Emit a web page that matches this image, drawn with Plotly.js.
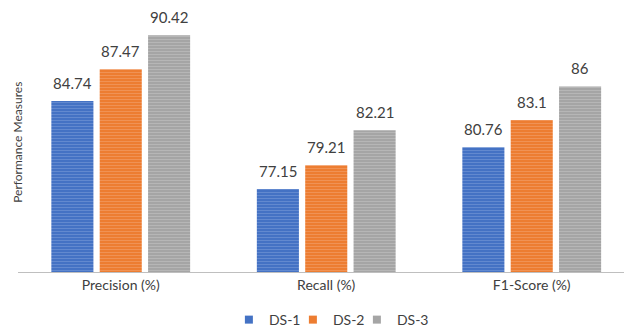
<!DOCTYPE html>
<html>
<head>
<meta charset="utf-8">
<script src="https://cdn.plot.ly/plotly-3.0.1.min.js"></script>
<style>
  html, body { margin: 0; padding: 0; background: #fff; }
  #chart { width: 624px; height: 329px; }
</style>
</head>
<body>
<div id="chart"></div>
<script>
// Performance measures per dataset
const categories = ['Precision (%)', 'Recall (%)', 'F1-Score (%)'];
const seriesNames = ['DS-1', 'DS-2', 'DS-3'];
const ds1 = [84.74, 77.15, 80.76];
const ds2 = [87.47, 79.21, 83.1];
const ds3 = [90.42, 82.21, 86];
const ds1Labels = ['84.74', '77.15', '80.76'];
const ds2Labels = ['87.47', '79.21', '83.1'];
const ds3Labels = ['90.42', '82.21', '86'];

const fills = ['#4472C4', '#ED7D31', '#A5A5A5'];
const stripes = ['#7f9fd9', '#f4a877', '#c8c8c8'];
const values = [ds1, ds2, ds3];
const labels = [ds1Labels, ds2Labels, ds3Labels];

const FONT = 'Lato, "Open Sans", sans-serif';

const W = 624, H = 329;
const M = { l: 18, r: 0, t: 11, b: 57 };
const X_RANGE = [-0.5, 2.449];
const BARGAP = 0.294, GROUPGAP = 0.13;

const bars = values.map((v, i) => ({
  type: 'bar',
  name: seriesNames[i],
  x: categories,
  y: v,
  marker: {
    color: fills[i],
    line: { width: 0 },
    pattern: { shape: '-', fgcolor: stripes[i], bgcolor: fills[i], size: 3, solidity: 0.35, fillmode: 'overlay' }
  },
  showlegend: false,
  hoverinfo: 'skip'
}));

// legend entries with small solid squares
const keys = seriesNames.map((n, i) => ({
  type: 'scatter',
  mode: 'markers',
  name: n,
  x: [null],
  y: [null],
  marker: { symbol: 'square', size: 8, color: fills[i] },
  showlegend: true,
  hoverinfo: 'skip'
}));
// blank trailing entry so the last legend name keeps room inside the legend box
keys.push({
  type: 'scatter',
  mode: 'markers',
  name: ' ',
  x: [null],
  y: [null],
  marker: { symbol: 'square', size: 8, color: 'rgba(0,0,0,0)' },
  showlegend: true,
  hoverinfo: 'skip'
});

// value labels above each bar, shifted sideways to their slot in the group
const pxPerCat = (W - M.l - M.r) / (X_RANGE[1] - X_RANGE[0]);
const slotPx = pxPerCat * (1 - BARGAP) / seriesNames.length;
const valueLabels = [];
values.forEach((v, i) => {
  v.forEach((val, j) => {
    valueLabels.push({
      xref: 'x', yref: 'y',
      x: categories[j], y: val,
      xshift: (i - (seriesNames.length - 1) / 2) * slotPx,
      yshift: 7,
      yanchor: 'bottom', xanchor: 'center',
      text: labels[i][j],
      showarrow: false,
      font: { family: FONT, size: 15, color: '#404040' }
    });
  });
});

const layout = {
  width: W,
  height: H,
  margin: Object.assign({ autoexpand: false }, M),
  paper_bgcolor: '#fff',
  plot_bgcolor: '#fff',
  barmode: 'group',
  bargap: BARGAP,
  bargroupgap: GROUPGAP,
  font: { family: FONT, color: '#404040' },
  xaxis: {
    type: 'category',
    range: X_RANGE,
    showline: true,
    linecolor: '#bfbfbf',
    linewidth: 1,
    ticks: '',
    showgrid: false,
    zeroline: false,
    tickfont: { family: FONT, size: 14, color: '#404040' }
  },
  yaxis: {
    range: [70, 92.5],
    showticklabels: false,
    showgrid: false,
    zeroline: false,
    showline: false,
    ticks: ''
  },
  showlegend: true,
  legend: {
    orientation: 'h',
    x: 0.348,
    xanchor: 'left',
    y: -0.184,
    yanchor: 'middle',
    font: { family: FONT, size: 14, color: '#404040' },
    itemwidth: 30,
    entrywidth: 19,
    entrywidthmode: 'pixels',
    traceorder: 'normal'
  },
  annotations: valueLabels.concat([{
    text: 'Performance Measures',
    xref: 'paper', yref: 'paper',
    x: 0, xanchor: 'center',
    y: 0.495, yanchor: 'middle',
    textangle: -90,
    showarrow: false,
    font: { family: FONT, size: 12, color: '#404040' }
  }])
};

Plotly.newPlot('chart', bars.concat(keys), layout, { displayModeBar: false, staticPlot: true });
</script>
</body>
</html>
